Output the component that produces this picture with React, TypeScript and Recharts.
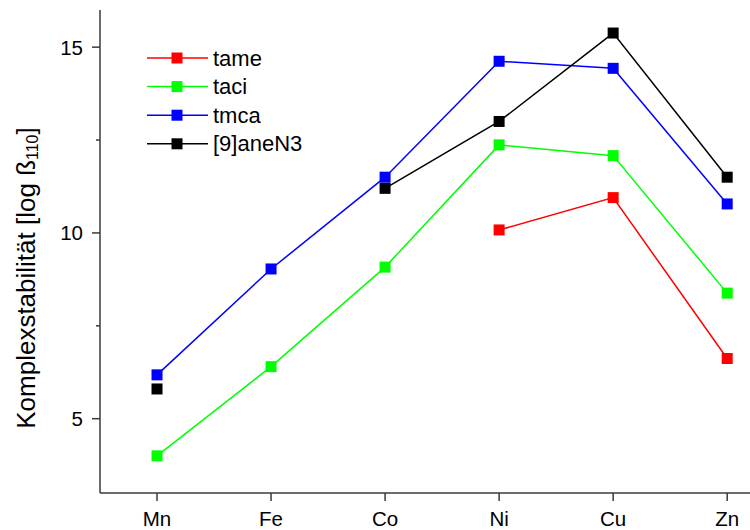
import React from 'react';
import { LineChart, Line, XAxis, YAxis, Legend, Label } from 'recharts';

const categories = ['Mn', 'Fe', 'Co', 'Ni', 'Cu', 'Zn'];
const tame = [null, null, null, 10.08, 10.95, 6.62];
const taci = [4.0, 6.4, 9.08, 12.37, 12.08, 8.38];
const tmca = [6.18, 9.03, 11.5, 14.62, 14.43, 10.78];
const aneN3 = [5.8, null, 11.2, 13.0, 15.38, 11.5];
const yTicks = [5, 7.5, 10, 12.5, 15];

const series = [
  { key: 'tame', name: 'tame', color: '#ff0000' },
  { key: 'taci', name: 'taci', color: '#00ff00' },
  { key: 'tmca', name: 'tmca', color: '#0000ff' },
  { key: 'aneN3', name: '[9]aneN3', color: '#000000' },
];

const data = categories.map((c, i) => ({
  idx: i,
  name: c,
  tame: tame[i],
  taci: taci[i],
  tmca: tmca[i],
  aneN3: aneN3[i],
}));

const FONT = '"Liberation Sans", Arial, sans-serif';
const AXIS = '#3a3a3a';

const square = (color: string) => (props: any) => {
  const { cx, cy, value, index } = props;
  if (value == null || cx == null || cy == null) return <g key={`n${index}`} />;
  return <rect key={`s${index}`} x={cx - 5.5} y={cy - 5.5} width={11} height={11} fill={color} />;
};

const YTick = (props: any) => {
  const { x, y, payload } = props;
  const axisX = x + 8 + 9;
  const major = payload.value % 5 === 0;
  return (
    <g>
      <line x1={axisX - (major ? 8 : 4)} x2={axisX} y1={y} y2={y} stroke={AXIS} strokeWidth={1.5} />
      {major && (
        <text x={x} y={y} textAnchor="end" dominantBaseline="central" fontSize={20.5} fontFamily={FONT} fill="#000">
          {payload.value}
        </text>
      )}
    </g>
  );
};

const YLabel = () => (
  <text
    transform="translate(26, 278) rotate(-90)"
    textAnchor="middle"
    dominantBaseline="central"
    fontSize={26}
    fontFamily={FONT}
    fill="#000"
  >
    Komplexstabilität [log ß
    <tspan fontSize={16} dy={6}>110</tspan>
    <tspan dy={-6}>]</tspan>
  </text>
);

const LegendBox = () => (
  <svg width={220} height={120}>
    {series.map((s, i) => {
      const cy = 14 + i * 28.6;
      return (
        <g key={s.key}>
          <line x1={7} x2={68} y1={cy} y2={cy} stroke={s.color} strokeWidth={1.5} />
          <rect x={31.5} y={cy - 5.5} width={11} height={11} fill={s.color} />
          <text x={73} y={cy} dominantBaseline="central" fontSize={22} fontFamily={FONT} fill="#000">
            {s.name}
          </text>
        </g>
      );
    })}
  </svg>
);

export default function App() {
  return (
    <div style={{ position: 'absolute', left: 0, top: 0, width: 750, height: 530, background: '#fff' }}>
      <LineChart width={750} height={530} data={data} margin={{ top: 10, right: 0, left: 0, bottom: 0 }}>
        <XAxis
          dataKey="idx"
          type="number"
          domain={[-0.5, 5.2]}
          ticks={[0, 1, 2, 3, 4, 5]}
          tickFormatter={(v: number) => categories[v]}
          allowDataOverflow
          height={37}
          stroke={AXIS}
          strokeWidth={1.5}
          tickSize={8}
          tickMargin={10}
          tick={{ fontSize: 20.5, fontFamily: FONT, fill: '#000' }}
        />
        <YAxis
          type="number"
          domain={[3, 16]}
          ticks={yTicks}
          allowDataOverflow
          width={100}
          stroke={AXIS}
          strokeWidth={1.5}
          tickSize={8}
          tickMargin={9}
          tickLine={false}
          tick={<YTick />}
        >
          <Label content={<YLabel />} />
        </YAxis>
        <Legend
          verticalAlign="middle"
          align="center"
          layout="vertical"
          content={<LegendBox />}
          wrapperStyle={{ position: 'absolute', left: 140, top: 44, width: 220, height: 120 }}
        />
        {series.map((s) => (
          <Line
            key={s.key}
            type="linear"
            dataKey={s.key}
            name={s.name}
            stroke={s.color}
            strokeWidth={1.5}
            dot={square(s.color)}
            activeDot={false}
            connectNulls={false}
            isAnimationActive={false}
          />
        ))}
      </LineChart>
    </div>
  );
}
